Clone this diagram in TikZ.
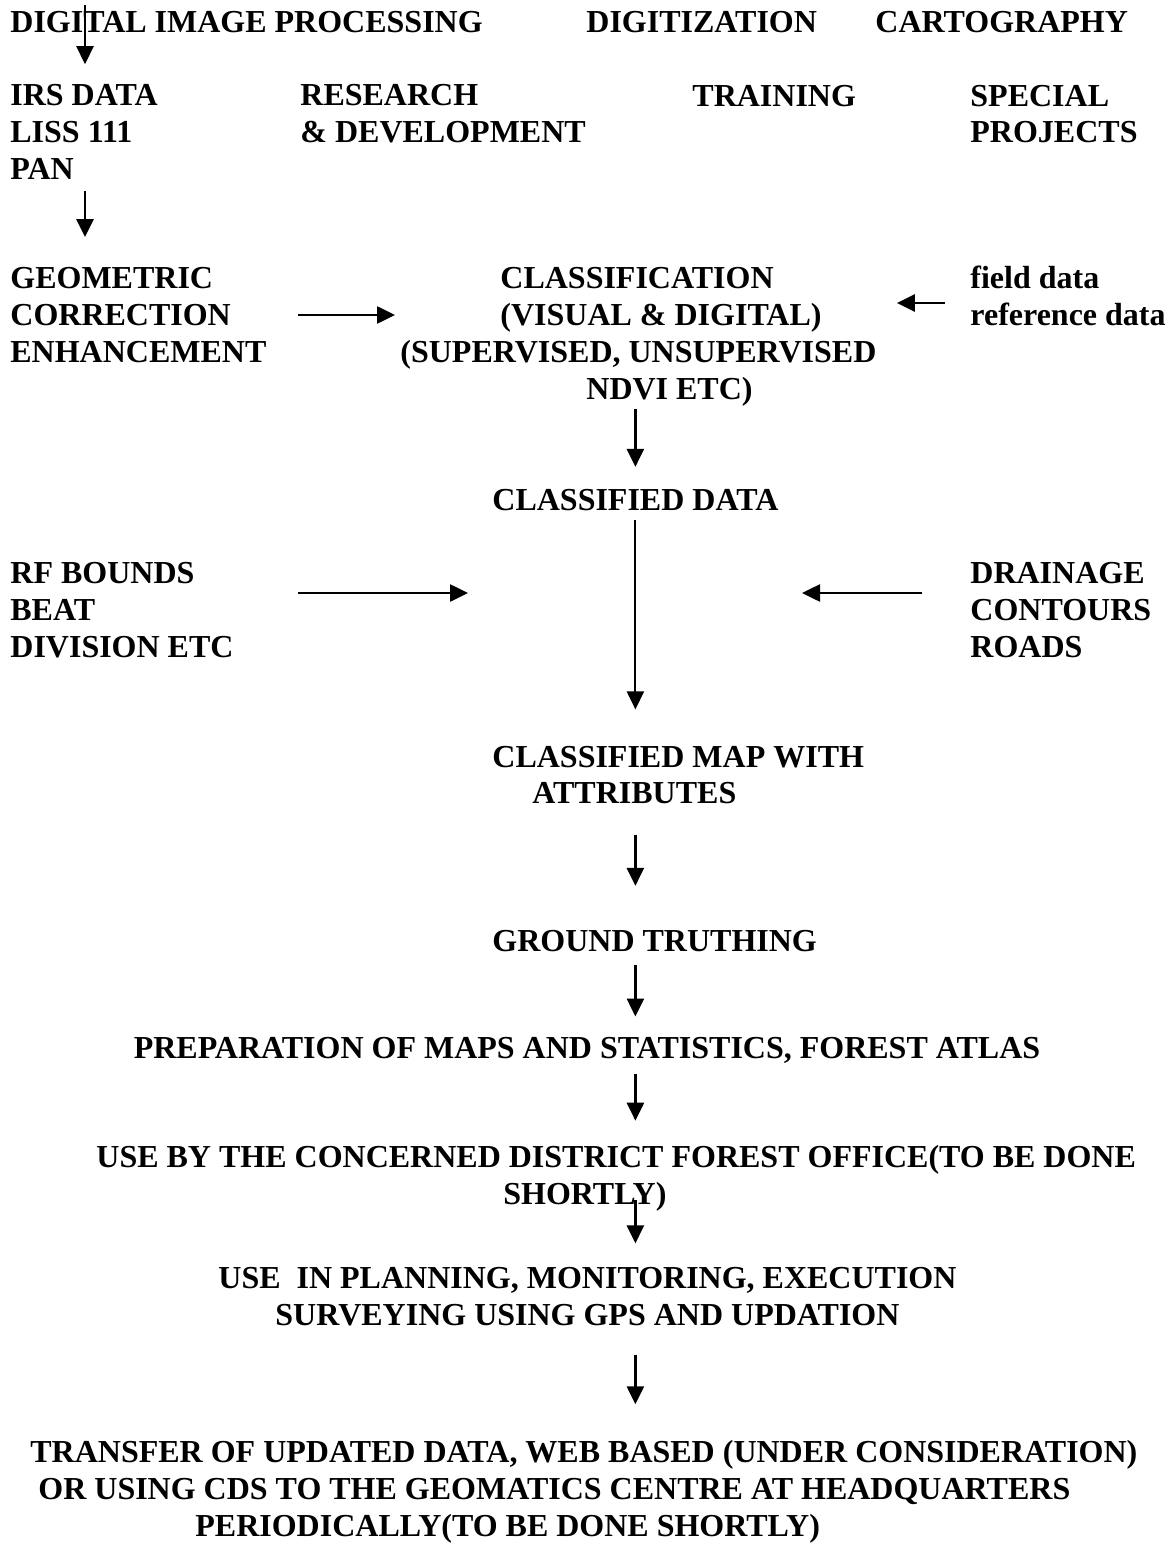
\documentclass[tikz,border=0pt]{standalone}
\usepackage{fontspec}
\setmainfont{Liberation Serif}[BoldFont = {Liberation Serif Bold}]
\usetikzlibrary{arrows.meta}

\begin{document}
\begin{tikzpicture}[
    x = 0.5pt, y = -0.5pt,
    every node/.style = {inner sep = 0pt, anchor = west, align = left,
      font = \rmfamily\bfseries\fontsize{16}{18.4}\selectfont},
    arr/.style = {draw, line width = 1.3pt,
      -{Triangle[length = 9pt, width = 8.5pt]}}
  ]
  \useasboundingbox (0,0) rectangle (1170,1556);

  % top rows
  \node (dip)   at (10,22)   {DIGITAL IMAGE PROCESSING};
  \node (digit) at (586,22)  {DIGITIZATION};
  \node (carto) at (875,22)  {CARTOGRAPHY};
  \node (irs)   at (10,132)  {IRS DATA\\LISS 111\\PAN};
  \node (rnd)   at (300,114) {RESEARCH\\\& DEVELOPMENT};
  \node (train) at (692,96)  {TRAINING};
  \node (spec)  at (970,114) {SPECIAL\\PROJECTS};

  % classification
  \node (geo)   at (10,315)  {GEOMETRIC\\CORRECTION\\ENHANCEMENT};
  \node (cls)   at (400,337) {\hspace*{50pt}CLASSIFICATION\\
    \hspace*{50pt}(VISUAL \& DIGITAL)\\(SUPERVISED, UNSUPERVISED\\
    \hspace*{93pt}NDVI ETC)};
  \node (field) at (970,296) {field data\\reference data};
  \node (cdata) at (492,500) {CLASSIFIED DATA};

  % map with attributes
  \node (rf)    at (10,610)  {RF BOUNDS\\BEAT\\DIVISION ETC};
  \node (drain) at (970,610) {DRAINAGE\\CONTOURS\\ROADS};
  \node (cmap)  at (492,775) {CLASSIFIED MAP WITH\\\hspace*{20pt}ATTRIBUTES};
  \node (ground) at (492,941) {GROUND TRUTHING};
  \node[anchor = center] (prep) at (587,1050)
    {PREPARATION OF MAPS AND STATISTICS, FOREST ATLAS};
  \node (use)   at (96,1178) {USE BY THE CONCERNED DISTRICT FOREST OFFICE(TO BE DONE\\
    \hspace*{203.5pt}SHORTLY)};
  \node (plan)  at (218,1297) {USE \ IN PLANNING, MONITORING, EXECUTION\\
    \hspace*{28.5pt}SURVEYING USING GPS AND UPDATION};
  \node (trans) at (30,1492) {TRANSFER OF UPDATED DATA, WEB BASED (UNDER CONSIDERATION)\\
    \hspace*{4pt}OR USING CDS TO THE GEOMATICS CENTRE AT HEADQUARTERS\\
    \hspace*{82.5pt}PERIODICALLY(TO BE DONE SHORTLY)};

  % side inputs
  \coordinate (g1) at ([xshift = 144pt]geo.west);
  \coordinate (f1) at ([xshift = -12.5pt, yshift = -3.5pt]field.west);
  \coordinate (r1) at ([xshift = 144pt, yshift = 8.5pt]rf.west);
  \coordinate (d1) at ([xshift = -24pt, yshift = 8.5pt]drain.west);

  \draw[arr, shorten < = -3pt, shorten > = 10pt]
    ([xshift = 37.5pt]dip.north west) -- ([xshift = 37.5pt]irs.north west);
  \draw[arr, shorten < = 5.5pt, shorten > = 15pt]
    ([xshift = 37.5pt]irs.south west) -- ([xshift = 37.5pt]geo.north west);
  \draw[arr, shorten > = 2.5pt] (g1) -- (g1 -| cls.west);
  \draw[arr, shorten > = 10pt] (f1) -- (f1 -| cls.east);
  \draw[arr, shorten < = 1pt, shorten > = 11pt]
    (cls.south -| cdata.north) -- (cdata.north);
  \draw[arr, line width = 1pt, shorten < = 4.5pt, shorten > = 18pt]
    (cdata.south) -- (cdata.south |- cmap.north);
  \draw[arr] (r1) -- ++(85pt,0);
  \draw[arr] (d1) -- ++(-60pt,0);

  % main chain
  \draw[arr, shorten < = 15pt, shorten > = 22pt]
    (cmap.south -| cdata.south) -- (ground.north -| cdata.south);
  \draw[arr, shorten < = 6.5pt, shorten > = 10pt]
    (ground.south -| cdata.south) -- (prep.north -| cdata.south);
  \draw[arr, shorten < = 5.5pt, shorten > = 12pt]
    (prep.south -| cdata.south) -- (use.north -| cdata.south);
  \draw[arr, shorten < = -5.5pt, shorten > = 12pt]
    (use.south -| cdata.south) -- (plan.north -| cdata.south);
  \draw[arr, shorten < = 14pt, shorten > = 18pt]
    (plan.south -| cdata.south) -- (trans.north -| cdata.south);
\end{tikzpicture}
\end{document}
